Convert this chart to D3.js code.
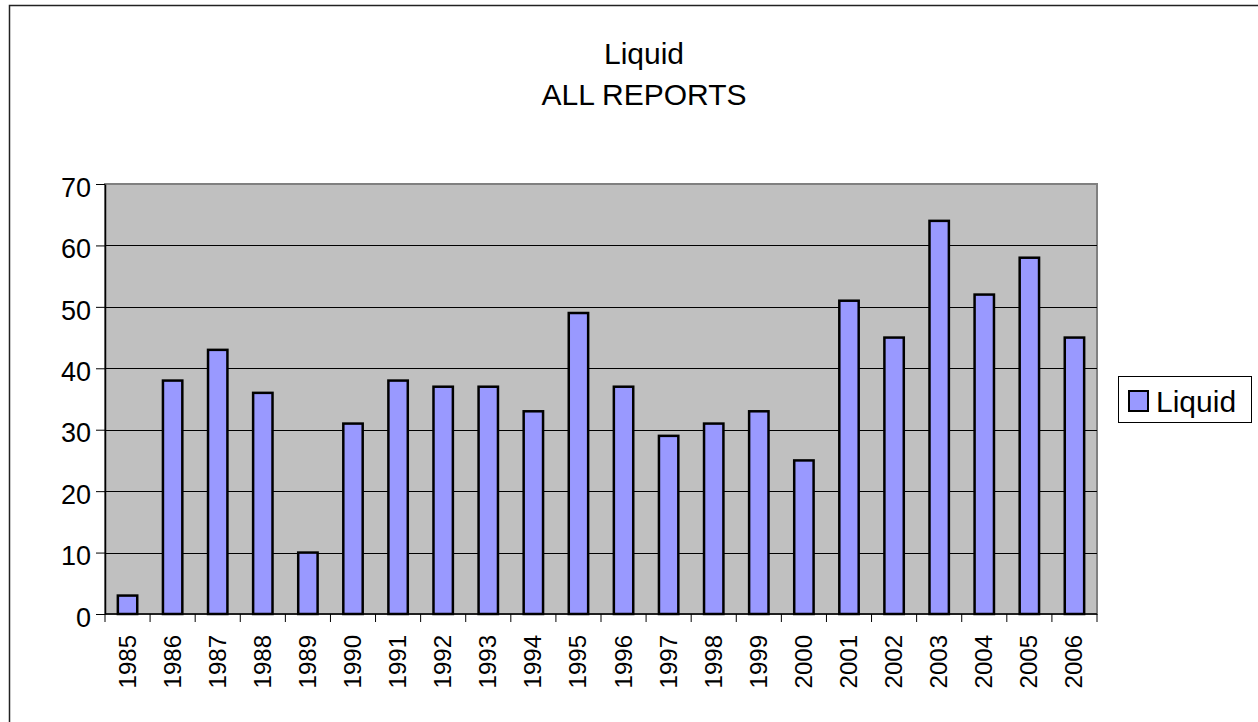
<!DOCTYPE html>
<html>
<head>
<meta charset="utf-8">
<script src="https://cdn.jsdelivr.net/npm/d3@7"></script>
<style>
    body { margin: 0; background: #fff; }
    svg { display: block; font-family: Arial, "Liberation Sans", sans-serif; }
</style>
</head>
<body>
<div id="chart"></div>
<script>
const years = ['1985', '1986', '1987', '1988', '1989', '1990', '1991', '1992', '1993', '1994', '1995',
    '1996', '1997', '1998', '1999', '2000', '2001', '2002', '2003', '2004', '2005', '2006'];
const liquid = [3, 38, 43, 36, 10, 31, 38, 37, 37, 33, 49, 37, 29, 31, 33, 25, 51, 45, 64, 52, 58, 45];
const yTicks = [0, 10, 20, 30, 40, 50, 60, 70];
const titleLines = ['Liquid', 'ALL REPORTS'];
const seriesName = 'Liquid';

const W = 1258, H = 722;
const plot = { left: 105, top: 184, right: 1097, bottom: 614 };

const svg = d3.select('#chart').append('svg')
    .attr('width', W)
    .attr('height', H);

// outer chart border, runs off the bottom and right of the window
svg.append('rect')
    .attr('x', 9.5).attr('y', 5.5)
    .attr('width', W + 20).attr('height', H + 20)
    .attr('fill', '#fff')
    .attr('stroke', '#222')
    .attr('stroke-width', 1.5);

let x = d3.scaleBand()
    .domain(years)
    .range([plot.left, plot.right])
    .paddingInner(0.57)
    .paddingOuter(0.285);

let y = d3.scaleLinear()
    .domain([0, 70])
    .range([plot.bottom, plot.top]);

// plot area
svg.append('rect')
    .attr('x', plot.left).attr('y', plot.top)
    .attr('width', plot.right - plot.left)
    .attr('height', plot.bottom - plot.top)
    .attr('fill', '#c0c0c0')
    .attr('stroke', '#808080')
    .attr('stroke-width', 2);

// gridlines
svg.append('g')
    .selectAll('line')
    .data(yTicks.filter(d => d > 0 && d < 70))
    .enter()
    .append('line')
    .attr('x1', plot.left).attr('x2', plot.right)
    .attr('y1', d => Math.round(y(d)) + 0.5)
    .attr('y2', d => Math.round(y(d)) + 0.5)
    .attr('stroke', '#000')
    .attr('stroke-width', 1);

// bars
svg.append('g')
    .selectAll('rect')
    .data(liquid)
    .enter()
    .append('rect')
    .attr('x', (d, i) => x(years[i]))
    .attr('y', d => y(d))
    .attr('width', x.bandwidth())
    .attr('height', d => y(0) - y(d))
    .attr('fill', '#9999ff')
    .attr('stroke', '#000')
    .attr('stroke-width', 2.5);

// y axis
let yAxis = svg.append('g')
    .attr('transform', `translate(${plot.left},0)`)
    .call(d3.axisLeft(y).tickValues(yTicks).tickSize(9).tickPadding(5).tickSizeOuter(0));
yAxis.selectAll('text').attr('font-size', 27).attr('fill', '#000').attr('dy', '0.45em');
yAxis.selectAll('line').attr('stroke', '#000');
yAxis.select('.domain').attr('stroke', '#000').attr('stroke-width', 1.5);

// x axis: ticks at band edges
let xAxis = svg.append('g')
    .attr('transform', `translate(0,${plot.bottom})`);
xAxis.append('line')
    .attr('x1', plot.left).attr('x2', plot.right)
    .attr('stroke', '#000').attr('stroke-width', 1.5);
let step = x.step();
xAxis.selectAll('.tick')
    .data(d3.range(years.length + 1))
    .enter()
    .append('line')
    .attr('class', 'tick')
    .attr('x1', i => plot.left + i * step)
    .attr('x2', i => plot.left + i * step)
    .attr('y1', 0).attr('y2', 8)
    .attr('stroke', '#000');
xAxis.selectAll('.lbl')
    .data(years)
    .enter()
    .append('text')
    .attr('class', 'lbl')
    .attr('transform', d => `translate(${x(d) + x.bandwidth() / 2 + 8},21) rotate(-90)`)
    .attr('text-anchor', 'end')
    .attr('font-size', 24)
    .text(d => d);

// title
svg.append('g')
    .selectAll('text')
    .data(titleLines)
    .enter()
    .append('text')
    .attr('x', 644)
    .attr('y', (d, i) => 64 + i * 41)
    .attr('text-anchor', 'middle')
    .attr('font-size', 30)
    .text(d => d);

// legend
let legend = svg.append('g');
legend.append('rect')
    .attr('x', 1118.5).attr('y', 376.5)
    .attr('width', 133).attr('height', 46)
    .attr('fill', '#fff')
    .attr('stroke', '#000')
    .attr('stroke-width', 1);
legend.append('rect')
    .attr('x', 1129).attr('y', 391)
    .attr('width', 19).attr('height', 20)
    .attr('fill', '#9999ff')
    .attr('stroke', '#000')
    .attr('stroke-width', 2);
legend.append('text')
    .attr('x', 1156).attr('y', 412)
    .attr('font-size', 30)
    .text(seriesName);
</script>
</body>
</html>
